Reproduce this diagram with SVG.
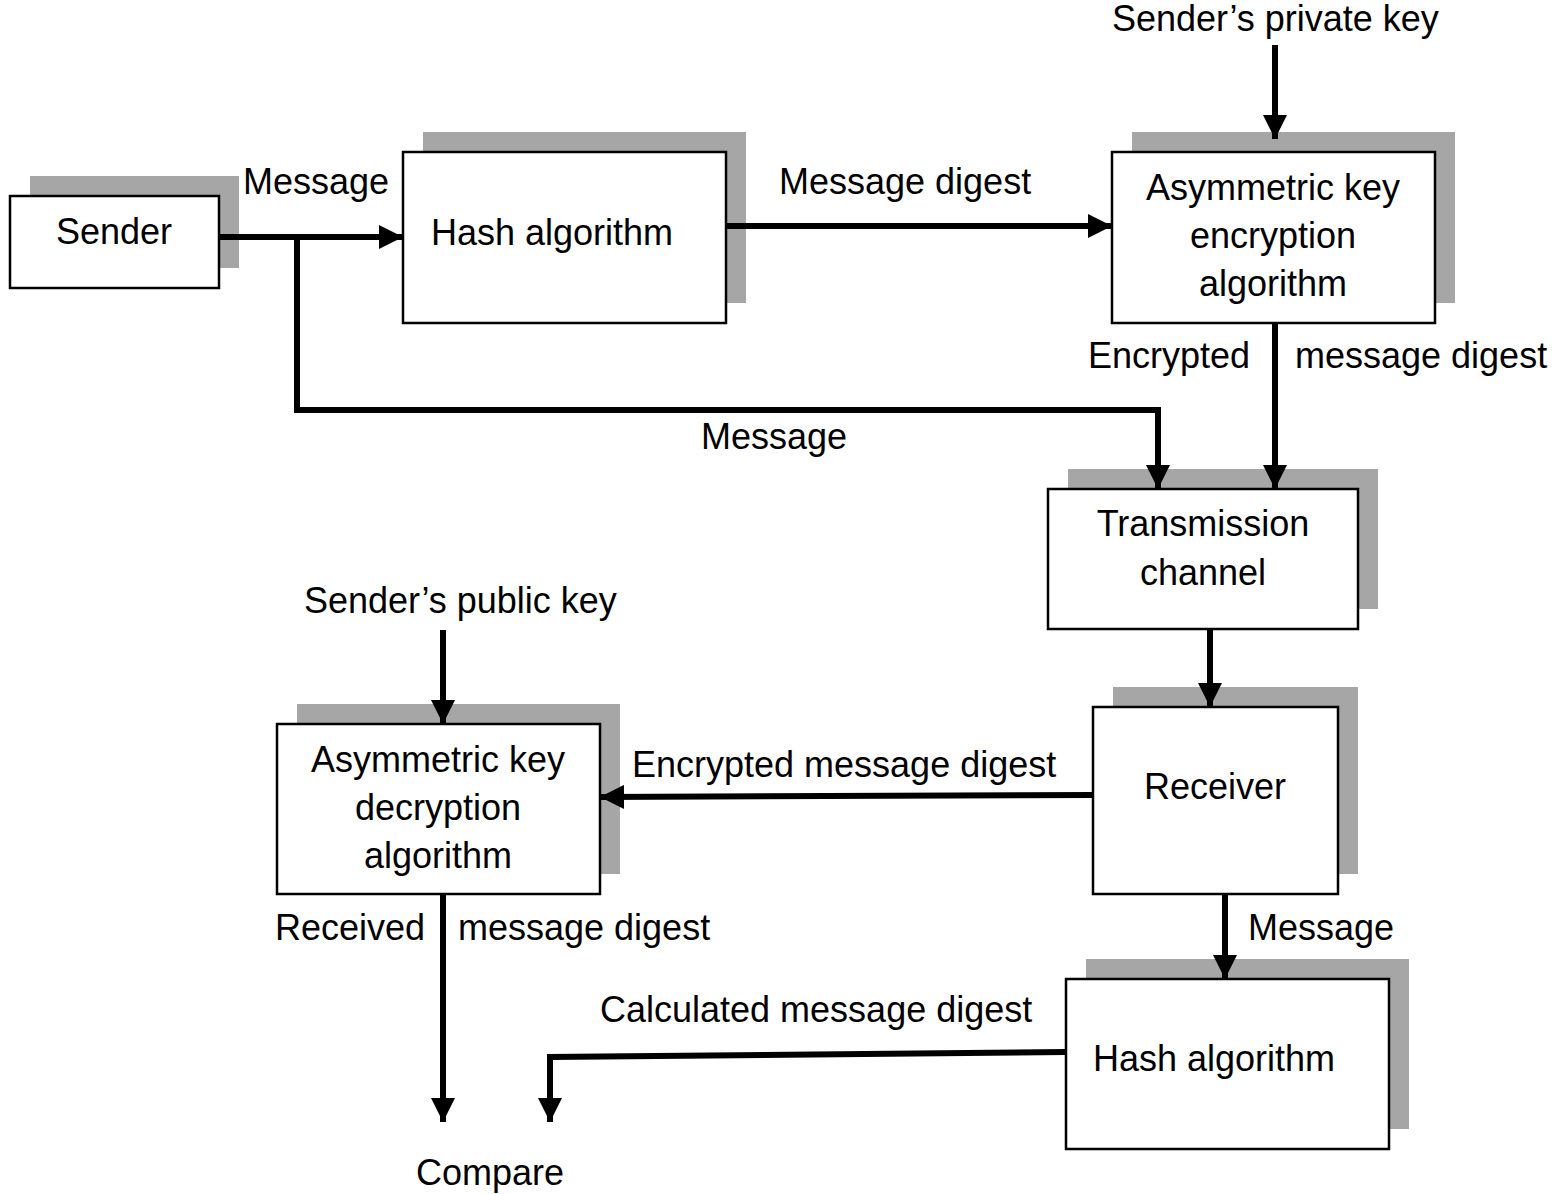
<svg xmlns="http://www.w3.org/2000/svg" width="1552" height="1194" viewBox="0 0 1552 1194">
<defs>
<style>
text{font-family:"Liberation Sans",Arial,sans-serif;font-size:36px;fill:#000}
.shadow{fill:#a6a6a6}
.box{fill:#fff;stroke:#000;stroke-width:2.5}
.c{text-anchor:middle}
.conn{fill:none;stroke:#000;stroke-width:6;stroke-linejoin:miter}
</style>
<marker id="ah" viewBox="0 0 10 10" refX="10" refY="5" markerWidth="4" markerHeight="4" markerUnits="strokeWidth" orient="auto">
<path d="M0,0 L10,5 L0,10 Z" fill="#000"/>
</marker>
</defs>
<rect width="1552" height="1194" fill="#fff"/>
<g id="sender">
<rect class="shadow" x="30" y="176" width="209" height="92"/>
<rect class="box" x="10" y="196" width="209" height="92"/>
<text class="c" x="114" y="244">Sender</text>
</g>
<g id="hash1">
<rect class="shadow" x="423" y="132" width="323" height="171"/>
<rect class="box" x="403" y="152" width="323" height="171"/>
<text class="c" x="552" y="245">Hash algorithm</text>
</g>
<g id="asymenc">
<rect class="shadow" x="1132" y="132" width="323" height="171"/>
<rect class="box" x="1112" y="152" width="323" height="171"/>
<text class="c" x="1273" y="200">Asymmetric key</text>
<text class="c" x="1273" y="248">encryption</text>
<text class="c" x="1273" y="296">algorithm</text>
</g>
<g id="transmission">
<rect class="shadow" x="1068" y="469" width="310" height="140"/>
<rect class="box" x="1048" y="489" width="310" height="140"/>
<text class="c" x="1203" y="536">Transmission</text>
<text class="c" x="1203" y="585">channel</text>
</g>
<g id="receiver">
<rect class="shadow" x="1113" y="687" width="245" height="187"/>
<rect class="box" x="1093" y="707" width="245" height="187"/>
<text class="c" x="1215" y="799">Receiver</text>
</g>
<g id="asymdec">
<rect class="shadow" x="297" y="704" width="323" height="170"/>
<rect class="box" x="277" y="724" width="323" height="170"/>
<text class="c" x="438" y="772">Asymmetric key</text>
<text class="c" x="438" y="820">decryption</text>
<text class="c" x="438" y="868">algorithm</text>
</g>
<g id="hash2">
<rect class="shadow" x="1086" y="959" width="323" height="170"/>
<rect class="box" x="1066" y="979" width="323" height="170"/>
<text class="c" x="1214" y="1071">Hash algorithm</text>
</g>
<g id="connectors">
<path class="conn" marker-end="url(#ah)" d="M219,237 L403,237"/>
<path class="conn" marker-end="url(#ah)" d="M297,237 L297,410 L1158,410 L1158,489"/>
<path class="conn" marker-end="url(#ah)" d="M726,226 L1112,226"/>
<path class="conn" marker-end="url(#ah)" d="M1275,45 L1275,139"/>
<path class="conn" marker-end="url(#ah)" d="M1275,323 L1275,489"/>
<path class="conn" marker-end="url(#ah)" d="M1210,629 L1210,707"/>
<path class="conn" marker-end="url(#ah)" d="M1093,795 L600,797"/>
<path class="conn" marker-end="url(#ah)" d="M443,630 L443,724"/>
<path class="conn" marker-end="url(#ah)" d="M1225,894 L1225,979"/>
<path class="conn" marker-end="url(#ah)" d="M443,894 L443,1122"/>
<path class="conn" marker-end="url(#ah)" d="M1066,1052 L550,1057 L550,1122"/>
</g>
<g id="labels">
<text x="1112" y="31">Sender’s private key</text>
<text x="243" y="194">Message</text>
<text x="779" y="194">Message digest</text>
<text x="1088" y="368">Encrypted</text>
<text x="1295" y="368">message digest</text>
<text x="701" y="449">Message</text>
<text x="304" y="613">Sender’s public key</text>
<text x="632" y="777">Encrypted message digest</text>
<text x="275" y="940">Received</text>
<text x="458" y="940">message digest</text>
<text x="1248" y="940">Message</text>
<text x="600" y="1022">Calculated message digest</text>
<text x="416" y="1185">Compare</text>
</g>
</svg>
